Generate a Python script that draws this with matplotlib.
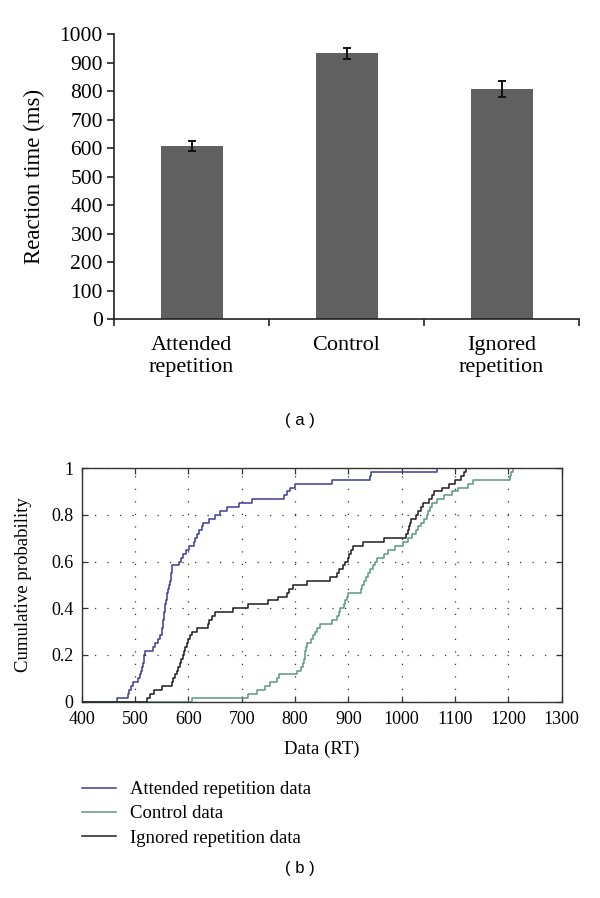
import numpy as np
import matplotlib
matplotlib.use('Agg')
import matplotlib.pyplot as plt

# panel (a) - mean RT with error bars
condiciones = ['Attended\nrepetition', 'Control', 'Ignored\nrepetition']
medias = [607, 934, 808]
errores = [18, 19, 27]

# panel (b) - sorted RTs
rt_atendido = [467, 486, 488, 493, 497, 506, 509, 511, 513, 514,
               516, 517, 519, 534, 538, 543, 546, 550, 551, 552,
               553, 554, 555, 556, 557, 558, 559, 560, 562, 564,
               566, 567, 568, 569, 570, 583, 586, 590, 596, 601,
               610, 613, 616, 620, 625, 628, 638, 650, 660, 672,
               694, 720, 780, 784, 790, 800, 869, 940, 942, 1066]
rt_control = [607, 712, 728, 744, 753, 766, 769, 803, 812, 814,
              816, 818, 819, 821, 822, 830, 834, 838, 842, 846,
              870, 878, 882, 885, 891, 894, 897, 900, 923, 926,
              929, 933, 936, 941, 947, 950, 953, 966, 975, 987,
              1002, 1012, 1020, 1026, 1030, 1036, 1041, 1047, 1050, 1053,
              1056, 1066, 1080, 1095, 1106, 1125, 1134, 1203, 1204, 1209]
rt_ignorado = [522, 528, 535, 550, 569, 571, 574, 578, 581, 584,
               587, 590, 592, 594, 597, 600, 603, 606, 617, 636,
               638, 644, 650, 684, 712, 749, 768, 784, 788, 797,
               822, 866, 878, 882, 889, 893, 899, 902, 905, 908,
               927, 966, 1008, 1011, 1013, 1016, 1018, 1026, 1031, 1036,
               1039, 1052, 1056, 1060, 1076, 1088, 1100, 1112, 1117, 1121]
series = [('Attended repetition data', rt_atendido, '#3c3c96'),
          ('Control data', rt_control, '#5b9a80'),
          ('Ignored repetition data', rt_ignorado, '#1e1e1e')]

serif = ['Liberation Serif', 'DejaVu Serif']
fig = plt.figure(figsize=(6, 8.98), dpi=100)

# ---------- (a) ----------
ax1 = fig.add_axes([0.19, 0.6448, 0.775, 0.3168])
pos = np.arange(len(medias)) + 0.5
ax1.bar(pos, medias, width=0.4, color='#606060', zorder=2)
ax1.errorbar(pos, medias, yerr=errores, fmt='none', ecolor='#111111',
             elinewidth=1.4, capsize=2.6, capthick=1.4, zorder=3)
ax1.set_xlim(0, 3)
ax1.set_ylim(0, 1000)
ax1.set_yticks(np.arange(0, 1001, 100))
ax1.set_xticks([0, 1, 2, 3])
ax1.set_xticklabels([])
ax1.set_xticks(pos, minor=True)
ax1.set_xticklabels(condiciones, minor=True, fontfamily=serif, fontsize=16,
                    linespacing=1.22)
ax1.tick_params(axis='x', which='minor', length=0, pad=12)
ax1.tick_params(axis='x', which='major', length=5, width=1.2, color='#222222')
ax1.tick_params(axis='y', length=5, width=1.2, color='#222222', pad=3)
for t in ax1.get_yticklabels():
    t.set_fontfamily(serif)
    t.set_fontsize(15.5)
ax1.spines['top'].set_visible(False)
ax1.spines['right'].set_visible(False)
ax1.spines['left'].set_linewidth(1.2)
ax1.spines['bottom'].set_linewidth(1.2)
ax1.spines['left'].set_color('#222222')
ax1.spines['bottom'].set_color('#222222')
ax1.set_ylabel('Reaction time (ms)', fontfamily=serif, fontsize=16.5)
ax1.yaxis.set_label_coords(-0.148, 0.5)

fig.text(0.5, 1 - 421 / 898, '( a )', ha='center', va='center',
         fontfamily='Liberation Sans', fontsize=12)

# ---------- (b) ----------
ax2 = fig.add_axes([0.1362, 0.2186, 0.8, 0.2602])
for nombre, datos, color in series:
    xs = np.sort(np.array(datos, dtype=float))
    n = len(xs)
    xx = np.r_[400, xs, 1300]
    yy = np.r_[0, np.arange(1, n + 1) / n, 1]
    ax2.step(xx, yy, where='post', color=color, lw=1.1, label=nombre)
ax2.set_xlim(400, 1300)
ax2.set_ylim(0, 1)
ax2.set_xticks(np.arange(400, 1301, 100))
ax2.set_yticks([0, 0.2, 0.4, 0.6, 0.8, 1])
ax2.set_yticklabels(['0', '0.2', '0.4', '0.6', '0.8', '1'])
ax2.grid(True, color='#333333', linestyle=(0, (1, 9)), lw=0.9)
ax2.tick_params(direction='in', length=4, width=0.9, top=True, right=True,
                color='#333333')
ax2.tick_params(axis='x', pad=7)
ax2.tick_params(axis='y', pad=6)
for t in ax2.get_xticklabels() + ax2.get_yticklabels():
    t.set_fontfamily(serif)
    t.set_fontsize(13)
for s in ax2.spines.values():
    s.set_linewidth(1.0)
    s.set_color('#333333')
ax2.set_xlabel('Data (RT)', fontfamily=serif, fontsize=13.5)
ax2.xaxis.set_label_coords(0.5, -0.165)
ax2.set_ylabel('Cumulative probability', fontfamily=serif, fontsize=13.5)
ax2.yaxis.set_label_coords(-0.103, 0.5)

leg = fig.legend(loc='upper left', bbox_to_anchor=(0.137, 1 - 781 / 898),
                 frameon=False, borderpad=0, borderaxespad=0,
                 handlelength=1.8, handletextpad=0.75, labelspacing=0.38,
                 prop={'family': serif, 'size': 13.5})

fig.text(0.5, 1 - 868 / 898, '( b )', ha='center', va='center',
         fontfamily='Liberation Sans', fontsize=12)

fig.savefig('out.png', dpi=100)
